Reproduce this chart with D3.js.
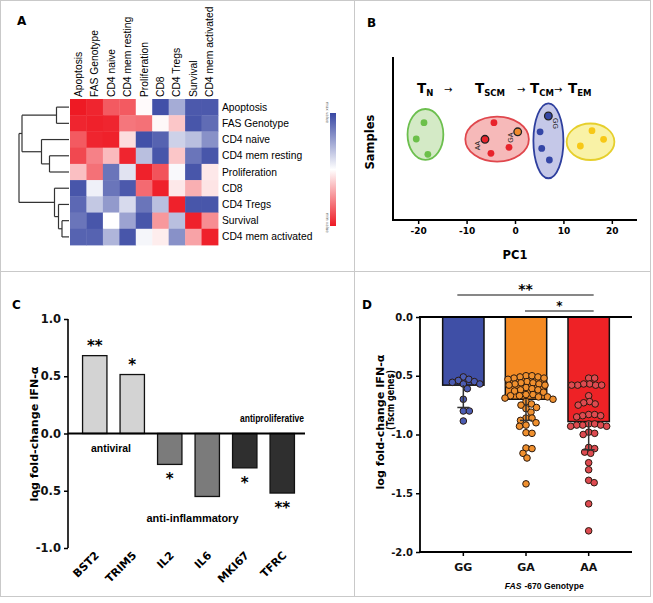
<!DOCTYPE html>
<html><head><meta charset="utf-8">
<script src="https://cdn.jsdelivr.net/npm/d3@7"></script>
<style>body{margin:0;background:#fff} svg{display:block}</style>
</head><body><svg id="c" width="653" height="603" font-family="DejaVu Sans"></svg>
<script>
// ---------- DATA ----------
// Panel A: correlation heatmap
const hmLabels = ["Apoptosis","FAS Genotype","CD4 naive","CD4 mem resting","Proliferation","CD8","CD4 Tregs","Survival","CD4 mem activated"];
const hmValues = [
 [ 1.00, 0.95, 0.72, 0.72, 0.02,-0.95,-0.45,-0.90,-0.90],
 [ 0.95, 0.97, 0.95, 0.60, 0.62, 0.03, 0.25,-0.92,-0.80],
 [ 0.72, 0.95, 0.97, 0.15,-0.95,-0.85,-0.25,-0.35,-0.60],
 [ 0.80, 0.55, 0.30, 0.95,-0.35,-0.92, 0.25,-0.75,-0.92],
 [ 0.28, 0.62,-0.75,-0.15, 0.97, 0.75,-0.03,-0.92, 0.10],
 [-0.92,-0.08,-0.75,-0.90, 0.65, 0.97, 0.10, 0.35, 0.12],
 [-0.82,-0.30,-0.55,-0.20,-0.75,-0.35, 0.97,-0.92,-0.92],
 [-0.75,-0.92, 0.00,-0.50,-0.92, 0.45,-0.35, 0.97, 0.50],
 [-0.85,-0.85,-0.40,-0.92,-0.05, 0.08,-0.60, 0.40, 0.97]
];
// dendrogram (merge heights, 0 = leaves, 1 = root)
const dendro = {h:1.0, children:[
  {h:0.94, children:[
    {h:0.25, children:[{name:"Apoptosis"},{name:"FAS Genotype"}]},
    {h:0.55, children:[{name:"CD4 naive"},{h:0.39, children:[{name:"CD4 mem resting"},{name:"Proliferation"}]}]}
  ]},
  {h:0.29, children:[{name:"CD8"},{h:0.21, children:[{name:"CD4 Tregs"},{h:0.14, children:[{name:"Survival"},{name:"CD4 mem activated"}]}]}]}
]};

// Panel B: PCA samples
const pcaPC1    = [-18.8,-20.4,-18.0, -4.35,-6.2,-4.97,-1.24,0.56, 6.89,5.18,5.52,7.1, 15.9,18.3,13.5];
const pcaSample = [ 5.97, 4.97, 4.03,  5.97,4.95, 4.09, 4.46,5.41, 6.38,5.41,4.39,3.68, 5.48,4.95,4.54];
const pcaGroup  = ["TN","TN","TN","TSCM","TSCM","TSCM","TSCM","TSCM","TCM","TCM","TCM","TCM","TEM","TEM","TEM"];
const pcaGenotype = ["","","","","AA","","","GA","GG","","","","","",""];
const clusterNames  = ["TN","TSCM","TCM","TEM"];
const clusterPC1    = [-18.5,-3.7,6.9,15.6];
const clusterSample = [5.25,4.96,4.86,4.80];
const clusterRPC1   = [3.7,6.56,3.1,4.93];
const clusterRSample= [1.56,1.38,2.3,1.12];
const pcaTicks = [-20,-10,0,10,20];

// Panel C: IFN-alpha fold change
const genes = ["BST2","TRIM5","IL2","IL6","MKI67","TFRC"];
const geneFC = [0.68,0.515,-0.27,-0.55,-0.30,-0.52];
const geneGroup = ["antiviral","antiviral","anti-inflammatory","anti-inflammatory","antiproliferative","antiproliferative"];
const geneSig = ["**","*","*","","*","**"];
const cTicks = [1.0,0.5,0.0,-0.5,-1.0];

// Panel D: FAS -670 genotype
const genotypes = ["GG","GA","AA"];
const genoMean = [-0.58,-0.70,-0.89];
const genoErrLow = [-0.77,-0.88,-1.13];
const dotsGG = [-0.51,-0.53,-0.54,-0.55,-0.556,-0.57,-0.57,-0.61,-0.70,-0.80,-0.80,-0.885];
const dotsGA = [-0.50,-0.50,-0.51,-0.51,-0.52,-0.52,-0.53,-0.55,-0.56,-0.56,-0.57,-0.57,-0.58,-0.58,
  -0.60,-0.61,-0.62,-0.62,-0.63,-0.64,-0.66,-0.66,-0.67,-0.67,-0.68,-0.68,-0.69,-0.70,
  -0.72,-0.74,-0.75,-0.77,-0.78,-0.81,-0.86,-0.86,-0.88,-0.90,-0.92,-0.93,-0.985,-0.99,-1.115,-1.12,-1.16,-1.20,-1.42];
const dotsAA = [-0.52,-0.52,-0.57,-0.58,-0.58,-0.58,-0.58,-0.57,-0.67,-0.72,-0.73,-0.74,-0.75,-0.83,-0.84,-0.84,-0.83,-0.85,
  -0.91,-0.92,-0.93,-0.92,-0.93,-0.91,-0.92,-0.98,-0.99,-1.00,-1.11,-1.12,-1.15,-1.16,-1.24,-1.30,-1.39,-1.41,-1.59,-1.82];
const dTicks = [0,-0.5,-1.0,-1.5,-2.0];
const sigPairs = [["GG","AA","**"],["GA","AA","*"]];

// ---------- DRAW ----------
const svg = d3.select("#c");
const ARIAL = "Liberation Sans, Arial, sans-serif";
const fmt1 = d => d3.format(".1f")(d).replace("\u2212","-");

// panel frames
const fr = svg.append("g").attr("stroke","#c9c9c9").attr("fill","none").attr("stroke-width",1);
fr.append("rect").attr("x",0.5).attr("y",0.5).attr("width",650).attr("height",596);
fr.append("line").attr("x1",354.5).attr("x2",354.5).attr("y1",0).attr("y2",597);
fr.append("line").attr("x1",0).attr("x2",651).attr("y1",271.5).attr("y2",271.5);

function letter(t,x,y){svg.append("text").attr("x",x).attr("y",y).attr("font-weight","bold").attr("font-size",12).text(t);}
letter("A",17,25); letter("B",367,27); letter("C",12,309); letter("D",362,309);

// ===== Panel A =====
const gA = svg.append("g");
const xA = d3.scaleBand().domain(hmLabels).range([70,218]);
const yA = d3.scaleBand().domain(hmLabels).range([99,245]);
const colA = d3.scaleLinear().domain([-1,0,1]).range(["#3847a3","#ffffff","#ee1a24"]);
const cells = hmValues.flatMap((row,i)=>row.map((v,j)=>({r:hmLabels[i],c:hmLabels[j],v})));
gA.selectAll("rect").data(cells).join("rect")
  .attr("x",d=>xA(d.c)).attr("y",d=>yA(d.r))
  .attr("width",xA.bandwidth()+0.4).attr("height",yA.bandwidth()+0.4)
  .attr("fill",d=>colA(d.v));
gA.selectAll("text.row").data(hmLabels).join("text").attr("class","row")
  .attr("x",222).attr("y",d=>yA(d)+yA.bandwidth()/2).attr("dy","0.35em")
  .attr("font-family",ARIAL).attr("font-size",10.3).text(d=>d);
gA.selectAll("text.col").data(hmLabels).join("text").attr("class","col")
  .attr("transform",d=>`translate(${xA(d)+xA.bandwidth()/2},97) rotate(-90)`).attr("dy","0.35em")
  .attr("font-family",ARIAL).attr("font-size",10.3).text(d=>d);
// dendrogram
const root = d3.hierarchy(dendro);
const xDen = d3.scaleLinear().domain([0,1]).range([69,19]);
root.eachAfter(n=>{
  if(!n.children){ n.py = yA(n.data.name)+yA.bandwidth()/2; n.hh=0; }
  else { n.py = d3.mean(n.children,c=>c.py); n.hh=n.data.h; }
});
const den = gA.append("g").attr("stroke","#333").attr("stroke-width",1.2).attr("fill","none");
root.each(n=>{
  if(n.children){
    const ys = n.children.map(c=>c.py);
    den.append("line").attr("x1",xDen(n.hh)).attr("x2",xDen(n.hh)).attr("y1",d3.min(ys)).attr("y2",d3.max(ys));
    n.children.forEach(c=>den.append("line").attr("x1",xDen(n.hh)).attr("x2",xDen(c.hh)).attr("y1",c.py).attr("y2",c.py));
  }
});
// color bar
const defs = svg.append("defs");
const lg = defs.append("linearGradient").attr("id","cb").attr("x1",0).attr("x2",0).attr("y1",0).attr("y2",1);
[[0,colA(-1)],[0.5,colA(0)],[1,colA(1)]].forEach(s=>lg.append("stop").attr("offset",s[0]).attr("stop-color",s[1]));
const cbScale = d3.scaleLinear().domain([-1,1]).range([113,226]);
svg.append("rect").attr("x",330).attr("y",cbScale(-1)).attr("width",6).attr("height",cbScale(1)-cbScale(-1)).attr("fill","url(#cb)");
svg.append("text").attr("transform",`translate(326,102) rotate(90)`).attr("font-size",4).attr("fill","#666").text("max value");
svg.append("text").attr("transform",`translate(326,213) rotate(90)`).attr("font-size",4).attr("fill","#666").text("min value");

// ===== Panel B =====
const gB = svg.append("g");
const xB = d3.scaleLinear().domain([-25.2,25.2]).range([393,637]);
const yB = d3.scaleLinear().domain([0,10]).range([220,57]);
const clFill = {TN:"#d4eac6",TSCM:"#f6b9b9",TCM:"#c5c8e8",TEM:"#f9f2a6"};
const clStroke = {TN:"#6cbf4e",TSCM:"#e0474d",TCM:"#2e3f9e",TEM:"#e6cf2c"};
const ptFill = {TN:"#6cc04a",TSCM:"#e8232b",TCM:"#3446a6",TEM:"#f7c816"};
gB.selectAll("ellipse").data(clusterNames).join("ellipse")
  .attr("cx",(d,i)=>xB(clusterPC1[i])).attr("cy",(d,i)=>yB(clusterSample[i]))
  .attr("rx",(d,i)=>xB(clusterRPC1[i])-xB(0)).attr("ry",(d,i)=>yB(0)-yB(clusterRSample[i]))
  .attr("fill",d=>clFill[d]).attr("stroke",d=>clStroke[d]).attr("stroke-width",1.8);
const pts = pcaPC1.map((x,i)=>({x,y:pcaSample[i],g:pcaGroup[i],gt:pcaGenotype[i]}));
gB.selectAll("circle").data(pts).join("circle")
  .attr("cx",d=>xB(d.x)).attr("cy",d=>yB(d.y)).attr("r",d=>d.gt?3.8:3.4)
  .attr("fill",d=>d.gt==="GA"?"#f08a2c":ptFill[d.g])
  .attr("stroke",d=>d.gt?"#222":"none").attr("stroke-width",1.3);
gB.selectAll("text.gt").data(pts.filter(d=>d.gt)).join("text").attr("class","gt")
  .attr("transform",d=>d.gt==="GG"?`translate(${xB(d.x)+5},${yB(d.y)+2}) rotate(90)`:`translate(${xB(d.x)-5},${yB(d.y)+11}) rotate(-90)`)
  .attr("font-family",ARIAL).attr("font-size",7).attr("fill","#222").text(d=>d.gt);
const axB = gB.append("g").attr("transform","translate(0,220)")
  .call(d3.axisBottom(xB).tickValues(pcaTicks).tickSize(4).tickPadding(4).tickFormat(d=>String(d)));
axB.select(".domain").attr("stroke-width",2).attr("d",`M${xB.range()[0]},0H${xB.range()[1]}`);
axB.selectAll(".tick line").attr("stroke-width",1.5);
axB.selectAll("text").attr("font-family","DejaVu Sans").attr("font-weight","bold").attr("font-size",9);
gB.append("line").attr("x1",393).attr("x2",393).attr("y1",yB.range()[1]).attr("y2",221).attr("stroke","#000").attr("stroke-width",2);
gB.append("text").attr("x",515).attr("y",259).attr("text-anchor","middle").attr("font-weight","bold").attr("font-size",11.5).text("PC1");
gB.append("text").attr("transform","translate(374,142) rotate(-90)").attr("text-anchor","middle").attr("font-weight","bold").attr("font-size",11.5).text("Samples");
// phase labels
const phase = [["T","N",417],["\u2192","",444],["T","SCM",475],["\u2192","",517],["T","CM",530],["\u2192","",554],["T","EM",568]];
phase.forEach(p=>{
  const t = gB.append("text").attr("x",p[2]).attr("y",93).attr("font-weight",p[1]?"bold":"normal").attr("font-size",p[1]?13.5:10).text(p[0]);
  if(p[1]) t.append("tspan").attr("dy",2.5).attr("font-size",8.5).text(p[1]);
});

// ===== Panel C =====
const gC = svg.append("g");
const xC = d3.scaleBand().domain(genes).range([76,301]).paddingInner(0.35).paddingOuter(0.175);
const yC = d3.scaleLinear().domain([-1,1]).range([548,319]);
const grpFill = {"antiviral":"#d3d3d3","anti-inflammatory":"#7b7b7b","antiproliferative":"#2f2f2f"};
gC.selectAll("rect").data(genes).join("rect")
  .attr("x",d=>xC(d)).attr("width",xC.bandwidth())
  .attr("y",(d,i)=>yC(Math.max(0,geneFC[i]))).attr("height",(d,i)=>Math.abs(yC(geneFC[i])-yC(0)))
  .attr("fill",(d,i)=>grpFill[geneGroup[i]]).attr("stroke","#111").attr("stroke-width",1.3);
const axC = gC.append("g").attr("transform","translate(68,0)")
  .call(d3.axisLeft(yC).tickValues(cTicks).tickSize(4).tickPadding(3).tickFormat(fmt1));
axC.select(".domain").attr("stroke-width",1.6).attr("d",`M0,${yC(1)}V${yC(-1)}`);
axC.selectAll(".tick line").attr("stroke-width",1.5);
axC.selectAll("text").attr("font-family","DejaVu Sans").attr("font-weight","bold").attr("font-size",11.5).attr("fill","#111");
gC.append("line").attr("x1",68).attr("x2",305).attr("y1",yC(0)).attr("y2",yC(0)).attr("stroke","#000").attr("stroke-width",2);
gC.selectAll("text.xl").data(genes).join("text").attr("class","xl")
  .attr("transform",d=>`translate(${xC(d)+xC.bandwidth()/2+5},556) rotate(-45)`)
  .attr("text-anchor","end").attr("font-weight","bold").attr("font-size",11).text(d=>d);
gC.selectAll("text.sig").data(genes).join("text").attr("class","sig")
  .attr("x",d=>xC(d)+xC.bandwidth()/2)
  .attr("y",(d,i)=>geneFC[i]>0 ? yC(geneFC[i])-5 : yC(geneFC[i])+20)
  .attr("text-anchor","middle").attr("font-weight","bold").attr("font-size",15).text((d,i)=>geneSig[i]);
gC.append("text").attr("transform","translate(38,434) rotate(-90)").attr("text-anchor","middle")
  .attr("font-weight","bold").attr("font-size",11).attr("textLength",135).attr("lengthAdjust","spacingAndGlyphs").text("log fold-change IFN-\u03b1");
gC.append("text").attr("x",111).attr("y",452).attr("text-anchor","middle").attr("font-family",ARIAL).attr("font-weight","bold").attr("font-size",10.5)
  .attr("textLength",40).attr("lengthAdjust","spacingAndGlyphs").text("antiviral");
gC.append("text").attr("x",192.5).attr("y",522).attr("text-anchor","middle").attr("font-family",ARIAL).attr("font-weight","bold").attr("font-size",10.5)
  .attr("textLength",92).attr("lengthAdjust","spacingAndGlyphs").text("anti-inflammatory");
gC.append("text").attr("x",272).attr("y",422).attr("text-anchor","middle").attr("font-family",ARIAL).attr("font-weight","bold").attr("font-size",10)
  .attr("textLength",64).attr("lengthAdjust","spacingAndGlyphs").text("antiproliferative");

// ===== Panel D =====
const gD = svg.append("g");
const xD = d3.scaleBand().domain(genotypes).range([432,620]).paddingInner(0.34).paddingOuter(0.17);
const yD = d3.scaleLinear().domain([-2,0]).range([552,317]);
const barCol = {GG:"#3f4fa6",GA:"#f58a23",AA:"#ee2226"};
const dotCol = {GG:"#4b5cb2",GA:"#f0902e",AA:"#de4a50"};
gD.selectAll("rect").data(genotypes).join("rect")
  .attr("x",d=>xD(d)).attr("width",xD.bandwidth()).attr("y",yD(0))
  .attr("height",(d,i)=>yD(genoMean[i])-yD(0)).attr("fill",d=>barCol[d]).attr("stroke","#111").attr("stroke-width",1.5);
// beeswarm
const R = 3.3, MIND = 2*R*0.9;
function swarm(vals, cx){
  const placed=[];
  vals.slice().sort((a,b)=>b-a).forEach(v=>{
    const py=yD(v);
    for(let k=0;k<400;k++){
      const off=(k%2?1:-1)*Math.ceil(k/2)*0.5;
      const px=cx+off;
      if(placed.every(p=>(p.x-px)**2+(p.y-py)**2>=MIND*MIND)){placed.push({x:px,y:py,v});break;}
    }
  });
  return placed;
}
const dotSets = {GG:dotsGG,GA:dotsGA,AA:dotsAA};
genotypes.forEach(g=>{
  const s = swarm(dotSets[g], xD(g)+xD.bandwidth()/2);
  gD.append("g").selectAll("circle").data(s).join("circle")
    .attr("cx",d=>d.x).attr("cy",d=>d.y).attr("r",R)
    .attr("fill",dotCol[g]).attr("stroke","#2a1a10").attr("stroke-width",1);
});
// error bars
genotypes.forEach((g,i)=>{
  const cx = xD(g)+xD.bandwidth()/2;
  gD.append("line").attr("x1",cx).attr("x2",cx).attr("y1",yD(genoMean[i])).attr("y2",yD(genoErrLow[i])).attr("stroke","#333").attr("stroke-width",1.5);
  gD.append("line").attr("x1",cx-6).attr("x2",cx+6).attr("y1",yD(genoErrLow[i])).attr("y2",yD(genoErrLow[i])).attr("stroke","#333").attr("stroke-width",1.5);
});
const axD = gD.append("g").attr("transform","translate(420,0)")
  .call(d3.axisLeft(yD).tickValues(dTicks).tickSize(4).tickPadding(3).tickFormat(fmt1));
axD.select(".domain").attr("stroke-width",1.8).attr("d",`M0,${yD(0)}V${yD(-2)}`);
axD.selectAll(".tick line").attr("stroke-width",1.5);
axD.selectAll("text").attr("font-family","DejaVu Sans").attr("font-weight","bold").attr("font-size",10).attr("fill","#111");
gD.append("line").attr("x1",419).attr("x2",632).attr("y1",yD(0)).attr("y2",yD(0)).attr("stroke","#000").attr("stroke-width",1.8);
const axDx = gD.append("g").attr("transform",`translate(0,${yD(-2)})`).call(d3.axisBottom(xD).tickSize(4).tickPadding(7));
axDx.select(".domain").attr("stroke-width",1.8).attr("d","M419,0H632");
axDx.selectAll(".tick line").attr("stroke-width",1.5);
axDx.selectAll("text").attr("font-family","DejaVu Sans").attr("font-weight","bold").attr("font-size",11).attr("fill","#111");
// x title: italic gene name + rest, as two adjacent texts
const xt1 = gD.append("text").attr("y",589).attr("font-family",ARIAL).attr("font-weight","bold").attr("font-size",8.6).attr("font-style","italic").text("FAS");
const xt2 = gD.append("text").attr("y",589).attr("font-family",ARIAL).attr("font-weight","bold").attr("font-size",8.6).text("\u00a0-670 Genotype");
const w1 = xt1.node().getComputedTextLength(), w2 = xt2.node().getComputedTextLength();
const xtStart = 544 - (w1+w2)/2;
xt1.attr("x",xtStart); xt2.attr("x",xtStart+w1+0.5);
gD.append("text").attr("transform","translate(384,422) rotate(-90)").attr("text-anchor","middle").attr("font-weight","bold").attr("font-size",10)
  .attr("textLength",135).attr("lengthAdjust","spacingAndGlyphs").text("log fold-change IFN-\u03b1");
gD.append("text").attr("transform","translate(394,400) rotate(-90)").attr("text-anchor","middle").attr("font-weight","bold").attr("font-size",10)
  .attr("textLength",60).attr("lengthAdjust","spacingAndGlyphs").text("(Tscm genes)");
// significance brackets
sigPairs.forEach((p,i)=>{
  const x1 = xD(p[0])+xD.bandwidth()/2 - (i===0?6:1);
  const x2 = xD(p[1])+xD.bandwidth()/2 + 5;
  const y = yD(0) - (i===0?22:6);
  gD.append("line").attr("x1",x1).attr("x2",x2).attr("y1",y).attr("y2",y).attr("stroke","#111").attr("stroke-width",1.2);
  gD.append("text").attr("x",(x1+x2)/2).attr("y",y-1).attr("text-anchor","middle")
    .attr("font-weight","bold").attr("font-size",i===0?14:12).text(p[2]);
});
</script></body></html>
